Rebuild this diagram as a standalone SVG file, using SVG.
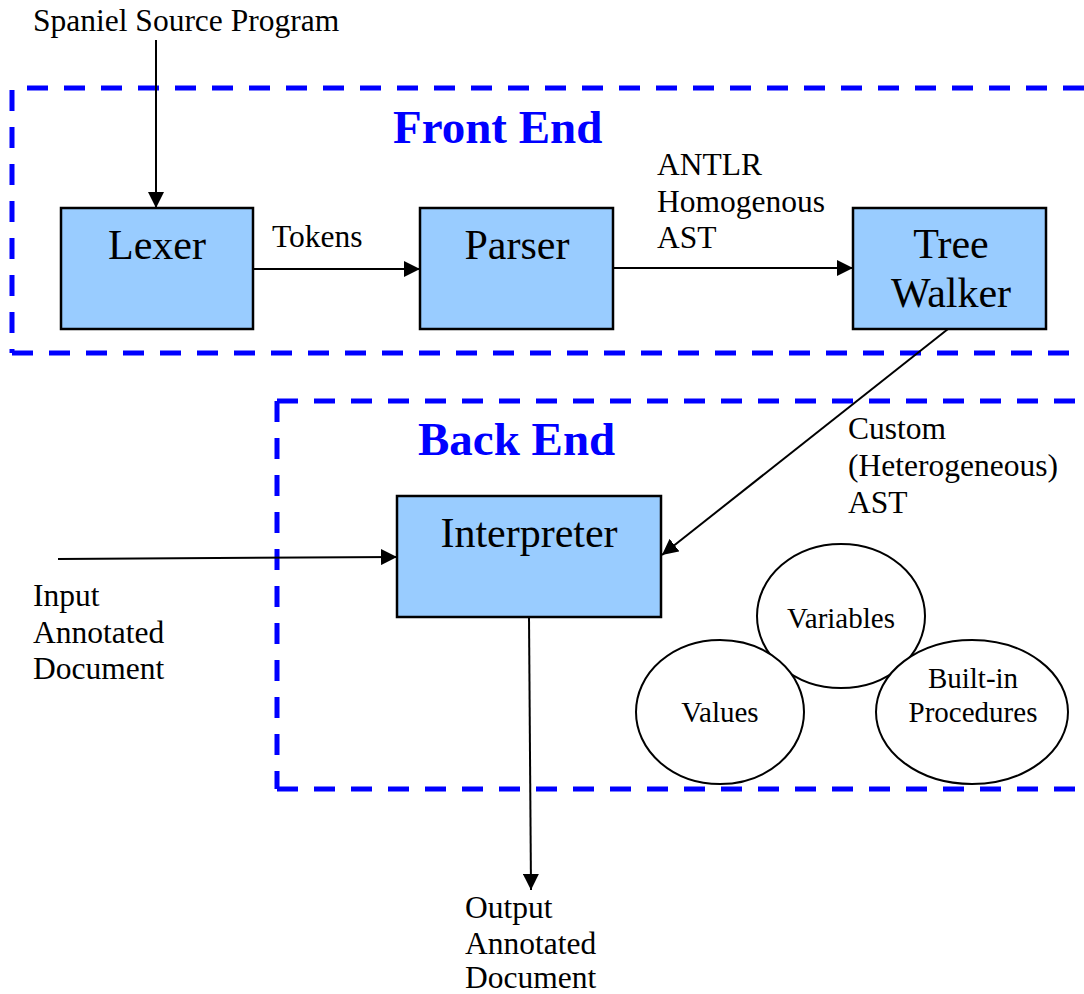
<svg xmlns="http://www.w3.org/2000/svg" width="1084" height="994" viewBox="0 0 1084 994">
<style>
text{font-family:"Liberation Serif","Times New Roman",serif;fill:#000}
.lbl{font-size:31.5px}
.big{font-size:42px}
.ell{font-size:29px}
.title{font-size:47px;font-weight:bold;fill:#0000FF}
.box{fill:#99CCFF;stroke:#000;stroke-width:2.5}
.oval{fill:#fff;stroke:#000;stroke-width:2}
.dash{fill:none;stroke:#0000FF;stroke-width:5;stroke-dasharray:21 16}
.conn{fill:none;stroke:#000;stroke-width:2;marker-end:url(#arr)}
</style>
<defs>
<marker id="arr" markerUnits="userSpaceOnUse" markerWidth="16" markerHeight="16" refX="16" refY="8" orient="auto">
<path d="M0,0 L16,8 L0,16 z" fill="#000"/>
</marker>
</defs>
<rect width="1084" height="994" fill="#fff"/>
<g id="frontend-region">
<line class="dash" x1="27" y1="88" x2="1100" y2="88"/>
<line class="dash" x1="12" y1="90" x2="12" y2="353"/>
<line class="dash" x1="12" y1="353" x2="1100" y2="353"/>
<text class="title" x="393" y="143">Front End</text>
</g>
<g id="backend-region">
<line class="dash" x1="277" y1="401" x2="1100" y2="401"/>
<line class="dash" x1="277" y1="401" x2="277" y2="789"/>
<line class="dash" x1="277" y1="789" x2="1100" y2="789"/>
<text class="title" x="418" y="455">Back End</text>
</g>
<g id="source-label">
<text class="lbl" x="33" y="31">Spaniel Source Program</text>
</g>
<g id="lexer">
<rect class="box" x="61" y="208" width="192" height="121"/>
<text class="big" x="157" y="259" text-anchor="middle">Lexer</text>
</g>
<g id="parser">
<rect class="box" x="420" y="208" width="193" height="121"/>
<text class="big" x="517" y="259" text-anchor="middle">Parser</text>
</g>
<g id="treewalker">
<rect class="box" x="853" y="208" width="193" height="121"/>
<text class="big" x="951" y="258" text-anchor="middle">Tree</text>
<text class="big" x="951" y="307" text-anchor="middle">Walker</text>
</g>
<g id="interpreter">
<rect class="box" x="397" y="496" width="264" height="121"/>
<text class="big" x="529" y="547" text-anchor="middle">Interpreter</text>
</g>
<g id="variables">
<ellipse class="oval" cx="841" cy="616" rx="84" ry="72"/>
<text class="ell" x="841" y="628" text-anchor="middle">Variables</text>
</g>
<g id="values">
<ellipse class="oval" cx="720" cy="712" rx="84" ry="72"/>
<text class="ell" x="720" y="722" text-anchor="middle">Values</text>
</g>
<g id="builtins">
<ellipse class="oval" cx="972" cy="712" rx="96" ry="72"/>
<text class="ell" x="973" y="688" text-anchor="middle">Built-in</text>
<text class="ell" x="973" y="722" text-anchor="middle">Procedures</text>
</g>
<g id="input-label">
<text class="lbl" x="33" y="606">Input</text>
<text class="lbl" x="33" y="643">Annotated</text>
<text class="lbl" x="33" y="679">Document</text>
</g>
<g id="output-label">
<text class="lbl" x="465" y="918">Output</text>
<text class="lbl" x="465" y="954">Annotated</text>
<text class="lbl" x="465" y="988">Document</text>
</g>
<g id="connectors">
<line class="conn" x1="156" y1="40" x2="156" y2="208"/>
<line class="conn" x1="253" y1="269" x2="420" y2="269"/>
<line class="conn" x1="613" y1="268" x2="853" y2="268"/>
<line class="conn" x1="948" y1="329" x2="662" y2="555"/>
<line class="conn" x1="58" y1="559" x2="397" y2="557"/>
<line class="conn" x1="529" y1="617" x2="531" y2="890"/>
<text class="lbl" x="272" y="247">Tokens</text>
<text class="lbl" x="657" y="175">ANTLR</text>
<text class="lbl" x="657" y="212">Homogenous</text>
<text class="lbl" x="657" y="248">AST</text>
<text class="lbl" x="848" y="439">Custom</text>
<text class="lbl" x="848" y="476">(Heterogeneous)</text>
<text class="lbl" x="848" y="513">AST</text>
</g>
</svg>
